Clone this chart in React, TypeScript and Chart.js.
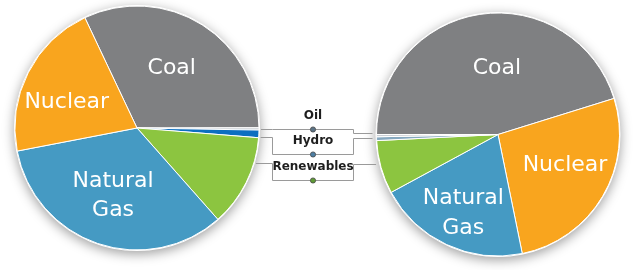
import { useEffect, useRef } from 'react';
import { Chart, registerables } from 'chart.js';

Chart.register(...registerables);

// ---- data ----
const leftCategories = ['Coal', 'Oil', 'Hydro', 'Renewables', 'Natural Gas', 'Nuclear'];
const leftValues = [32.0, 0.3, 1.0, 12.2, 33.5, 21.0];

const rightCategories = ['Coal', 'Nuclear', 'Natural Gas', 'Renewables', 'Hydro', 'Oil'];
const rightValues = [45.2, 26.6, 20.3, 7.1, 0.5, 0.3];

const calloutCategories = ['Oil', 'Hydro', 'Renewables'];
const insideLabelCategories = ['Coal', 'Nuclear', 'Natural Gas'];

// ---- styles ----
const COLORS: Record<string, string> = {
  Coal: '#7f8082',
  Nuclear: '#f9a51e',
  'Natural Gas': '#459ac3',
  Renewables: '#8cc540',
  Hydro: '#0c6fc0',
  Oil: '#c9ced3',
};
const RIGHT_COLORS: Record<string, string> = { ...COLORS, Hydro: '#86a8bf' };
const DOT_COLORS: Record<string, string> = { Oil: '#5b7386', Hydro: '#4d7ea3', Renewables: '#5f9a35' };

// label placement (polar, degrees clockwise from top, fraction of radius)
const LEFT_LABEL_POS: Record<string, [number, number]> = {
  Coal: [30.2, 0.566],
  Nuclear: [289.8, 0.612],
  'Natural Gas': [199.4, 0.59],
};
const RIGHT_LABEL_POS: Record<string, [number, number]> = {
  Coal: [-1, 0.543],
  Nuclear: [114.5, 0.606],
  'Natural Gas': [203.8, 0.708],
};

// callout layout: offsets of leader ends from pie centres, and dot rows
const CALLOUT_LAYOUT: Record<string, { dyL: number; dyR: number; dotY: number }> = {
  Oil: { dyL: 1, dyR: -1.2, dotY: 129 },
  Hydro: { dyL: 9, dyR: 3.5, dotY: 154 },
  Renewables: { dyL: 35, dyR: 29.5, dotY: 180 },
};
const BRACKET_LEFT = 272;
const BRACKET_RIGHT = 353;

const W = 633;
const H = 270;

function pieGeom(chart: any) {
  const arc = chart.getDatasetMeta(0).data[0];
  const p = arc.getProps(['x', 'y', 'outerRadius'], true);
  return { x: p.x as number, y: p.y as number, r: p.outerRadius as number };
}

const shadowPlugin = {
  id: 'pieShadow',
  beforeDatasetsDraw(chart: any) {
    const { ctx } = chart;
    const g = pieGeom(chart);
    ctx.save();
    ctx.shadowColor = 'rgba(0,0,0,0.38)';
    ctx.shadowBlur = 12;
    ctx.shadowOffsetY = 3;
    ctx.fillStyle = '#ffffff';
    ctx.beginPath();
    ctx.arc(g.x, g.y, g.r + 1, 0, Math.PI * 2);
    ctx.fill();
    ctx.restore();
  },
};

function makeInsideLabels(pos: Record<string, [number, number]>) {
  return {
    id: 'insideLabels',
    afterDatasetsDraw(chart: any) {
      const { ctx } = chart;
      const g = pieGeom(chart);
      ctx.save();
      ctx.fillStyle = '#ffffff';
      ctx.font = '22px "DejaVu Sans"';
      ctx.textAlign = 'center';
      ctx.textBaseline = 'middle';
      insideLabelCategories.forEach((cat) => {
        const [deg, frac] = pos[cat];
        const a = (deg * Math.PI) / 180;
        const cx = g.x + Math.sin(a) * g.r * frac;
        const cy = g.y - Math.cos(a) * g.r * frac;
        const lines = cat.split(' ');
        lines.forEach((ln, i) => {
          ctx.fillText(ln, cx, cy + (i - (lines.length - 1) / 2) * 29.5);
        });
      });
      ctx.restore();
    },
  };
}

function makeCallouts(getLeft: () => any) {
  return {
    id: 'callouts',
    afterDraw(chart: any) {
      const left = getLeft();
      if (!left) return;
      const { ctx } = chart;
      const L = pieGeom(left);
      const R = pieGeom(chart);
      ctx.save();
      ctx.strokeStyle = '#9a9a9a';
      ctx.lineWidth = 1;
      calloutCategories.forEach((cat) => {
        const lay = CALLOUT_LAYOUT[cat];
        const ly = Math.round(L.y + lay.dyL) + 0.5;
        const lx = L.x + Math.sqrt(L.r * L.r - lay.dyL * lay.dyL) + 2;
        const ry = Math.round(R.y + lay.dyR) + 0.5;
        const rx = R.x - Math.sqrt(R.r * R.r - lay.dyR * lay.dyR) - 4;
        const dy = Math.round(lay.dotY) + 0.5;
        const xl = BRACKET_LEFT + 0.5;
        const xr = BRACKET_RIGHT + 0.5;
        ctx.beginPath();
        ctx.moveTo(lx, ly);
        ctx.lineTo(xl, ly);
        ctx.lineTo(xl, dy);
        ctx.lineTo(xr, dy);
        ctx.lineTo(xr, ry);
        ctx.lineTo(rx, ry);
        ctx.stroke();
      });
      calloutCategories.forEach((cat) => {
        const lay = CALLOUT_LAYOUT[cat];
        const dx = (BRACKET_LEFT + BRACKET_RIGHT) / 2 + 0.5;
        const dy = Math.round(lay.dotY) + 0.5;
        ctx.beginPath();
        ctx.arc(dx, dy, 2.6, 0, Math.PI * 2);
        ctx.fillStyle = DOT_COLORS[cat];
        ctx.fill();
        ctx.lineWidth = 0.8;
        ctx.strokeStyle = '#4a4a4a';
        ctx.stroke();
        ctx.fillStyle = '#1e1e1e';
        ctx.font = 'bold 12px "DejaVu Sans"';
        ctx.textAlign = 'center';
        ctx.textBaseline = 'middle';
        ctx.fillText(cat, dx, lay.dotY - 13);
      });
      ctx.restore();
    },
  };
}

function pieConfig(
  labels: string[],
  values: number[],
  colors: Record<string, string>,
  rotation: number,
  radius: number,
  padding: { left: number; right: number; top: number; bottom: number },
  plugins: any[]
): any {
  return {
    type: 'pie',
    data: {
      labels,
      datasets: [
        {
          data: values,
          backgroundColor: labels.map((l) => colors[l]),
          borderColor: '#ffffff',
          borderWidth: 1,
        },
      ],
    },
    options: {
      responsive: false,
      animation: false,
      rotation,
      radius,
      layout: { padding },
      plugins: { legend: { display: false }, tooltip: { enabled: false } },
      events: [],
    },
    plugins,
  };
}

export default function App() {
  const leftRef = useRef<HTMLCanvasElement>(null);
  const rightRef = useRef<HTMLCanvasElement>(null);

  useEffect(() => {
    if (!leftRef.current || !rightRef.current) return;
    const leftChart = new Chart(
      leftRef.current,
      pieConfig(
        leftCategories,
        leftValues,
        COLORS,
        -25.3,
        122,
        { left: 0, right: W - 274, top: 0, bottom: H - 256 },
        [shadowPlugin, makeInsideLabels(LEFT_LABEL_POS)]
      )
    );
    const rightChart = new Chart(
      rightRef.current,
      pieConfig(
        rightCategories,
        rightValues,
        RIGHT_COLORS,
        -90,
        121.5,
        { left: 363, right: 0, top: 0, bottom: 1 },
        [shadowPlugin, makeInsideLabels(RIGHT_LABEL_POS), makeCallouts(() => leftChart)]
      )
    );
    return () => {
      rightChart.destroy();
      leftChart.destroy();
    };
  }, []);

  const canvasStyle: React.CSSProperties = { position: 'absolute', left: 0, top: 0, width: W, height: H };
  return (
    <div style={{ position: 'absolute', left: 0, top: 0, width: W, height: H, background: '#ffffff' }}>
      <canvas ref={leftRef} width={W} height={H} style={canvasStyle} />
      <canvas ref={rightRef} width={W} height={H} style={canvasStyle} />
    </div>
  );
}
